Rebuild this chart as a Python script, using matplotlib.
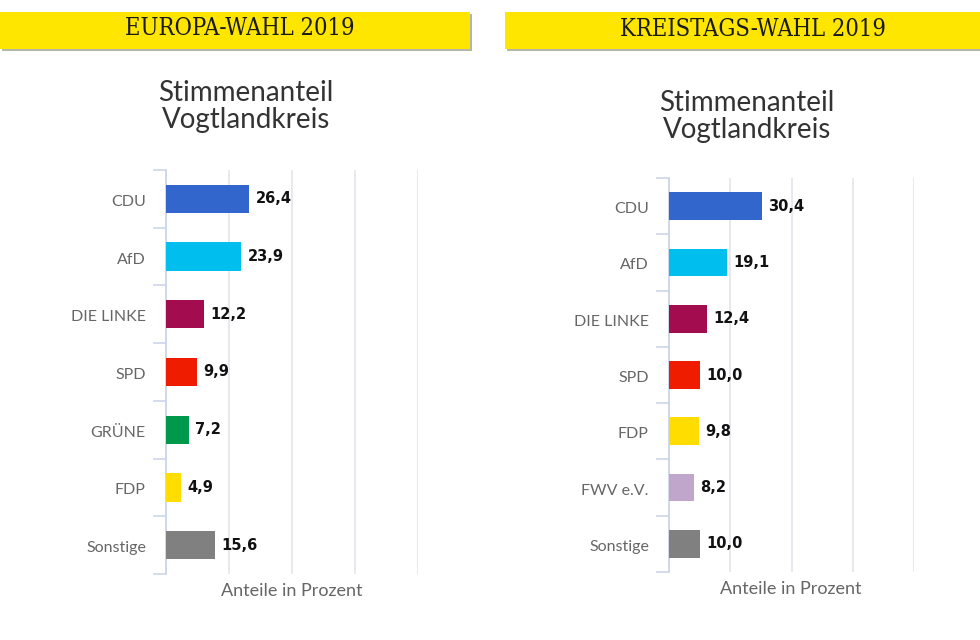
import matplotlib
matplotlib.use("Agg")
import matplotlib.pyplot as plt
from matplotlib.patches import Rectangle
from matplotlib.transforms import ScaledTranslation

W, H = 980, 640

left_title = "EUROPA-WAHL 2019"
left_categories = ["CDU", "AfD", "DIE LINKE", "SPD", "GRÜNE", "FDP", "Sonstige"]
left_values = [26.4, 23.9, 12.2, 9.9, 7.2, 4.9, 15.6]
left_colors = ["#3366cc", "#00bfef", "#a30d4f", "#f01c00", "#00994c", "#ffdd00", "#808080"]

right_title = "KREISTAGS-WAHL 2019"
right_categories = ["CDU", "AfD", "DIE LINKE", "SPD", "FDP", "FWV e.V.", "Sonstige"]
right_values = [30.4, 19.1, 12.4, 10.0, 9.8, 8.2, 10.0]
right_colors = ["#3366cc", "#00bfef", "#a30d4f", "#f01c00", "#ffdd00", "#c0a6cb", "#808080"]

chart_title = "Stimmenanteil\nVogtlandkreis"
x_label = "Anteile in Prozent"
x_ticks = [0, 20, 40, 60, 80]

fig = plt.figure(figsize=(W / 100, H / 100), dpi=100, facecolor="white")
bg = fig.add_axes([0, 0, 1, 1])
bg.set_xlim(0, W)
bg.set_ylim(H, 0)
bg.axis("off")


def banner(x0, x1, y0, y1, text, text_x, text_y):
    bg.add_patch(Rectangle((x0 + 1.5, y0 + 1.5), x1 - x0, y1 - y0, fc="#b5b5a8", ec="none", zorder=1))
    bg.add_patch(Rectangle((x0, y0), x1 - x0, y1 - y0, fc="#ffe600", ec="none", zorder=2))
    bg.text(text_x, text_y, text, ha="center", va="center",
            family="DejaVu Serif", stretch="condensed", fontsize=17, color="#1a1a1a", zorder=3)


def panel(x0, x1, y0, y1, cats, vals, cols, title_x, title_y, label_x, label_y):
    ax = fig.add_axes([x0 / W, 1 - y1 / H, (x1 - x0) / W, (y1 - y0) / H])
    ax.set_xlim(0, 80)
    ax.set_ylim(len(cats) - 0.5, -0.5)
    ax.patch.set_alpha(0)
    for s in ("top", "right", "bottom"):
        ax.spines[s].set_visible(False)
    ax.spines["left"].set_color("#ccd6eb")
    ax.spines["left"].set_linewidth(1.3)
    ax.set_xticks(x_ticks)
    ax.set_xticklabels([])
    ax.tick_params(axis="x", length=0)
    ax.grid(axis="x", color="#e6e6ee", lw=1.3)
    ax.set_axisbelow(True)
    ax.set_yticks(range(len(cats)))
    ax.set_yticklabels(cats, family="Lato", fontsize=11.5, color="#666666")
    ax.tick_params(axis="y", length=0, pad=14.5)
    shift = ScaledTranslation(0, -1.5 / 100, fig.dpi_scale_trans)
    for lab in ax.get_yticklabels():
        lab.set_transform(lab.get_transform() + shift)
    ax.set_yticks([i - 0.5 for i in range(len(cats) + 1)], minor=True)
    ax.tick_params(axis="y", which="minor", length=9.5, width=1.2, color="#ccd6eb")
    ax.barh(range(len(cats)), vals, height=0.49, color=cols, zorder=3)
    for i, v in enumerate(vals):
        ax.annotate(f"{v:.1f}".replace(".", ","), (v, i), xytext=(4.5, 0), textcoords="offset points",
                    ha="left", va="center", family="DejaVu Sans", fontweight="bold",
                    fontsize=10.5, color="#111111", zorder=4)
    bg.text(title_x, title_y, chart_title, ha="center", va="center", family="Lato",
            fontsize=20, color="#333333", linespacing=1.08)
    bg.text(label_x, label_y, x_label, ha="center", va="center", family="Lato",
            fontsize=13, color="#666666")


banner(0, 470, 12, 49, left_title, 240, 28.5)
banner(505, 980, 12, 49, right_title, 753, 30)
panel(166, 418, 170, 574, left_categories, left_values, left_colors, 246, 106.5, 292, 591)
panel(669, 914, 178, 572, right_categories, right_values, right_colors, 747, 116.5, 791, 589)

fig.savefig("out.png", dpi=100)
